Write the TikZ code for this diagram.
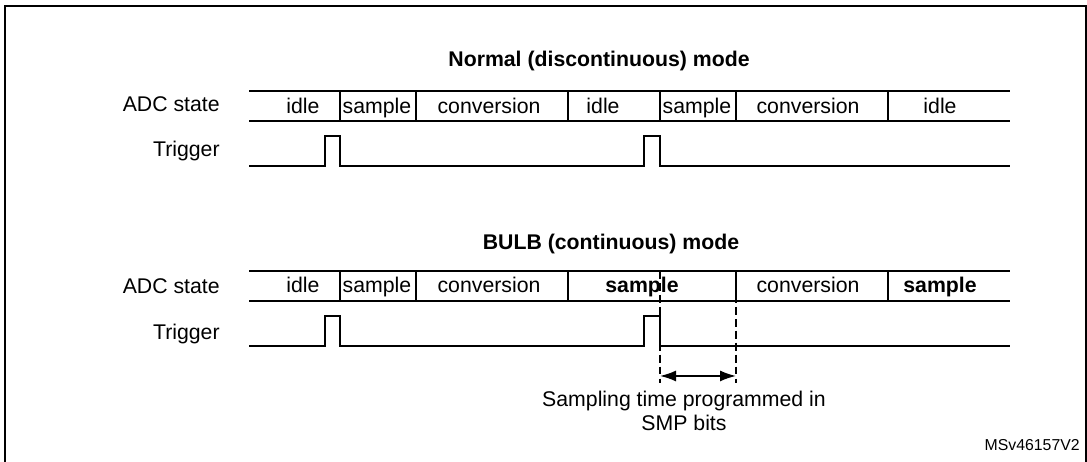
\documentclass[tikz,border=0pt]{standalone}
\usepackage{fontspec}
\setmainfont{Liberation Sans}
\usetikzlibrary{arrows.meta}

\tikzset{
  lbl/.style={font=\fontsize{12.1}{14.5}\selectfont, inner sep=0pt},
  ttl/.style={lbl, font=\fontsize{12.1}{14.5}\selectfont\bfseries},
  sig/.style={line width=0.7pt},
  guide/.style={line width=0.7pt, dash pattern=on 4.5pt off 2.3pt},
}

\begin{document}
\begin{tikzpicture}[x=0.02cm,y=-0.02cm]
		\useasboundingbox (0,0) rectangle (1087,461);
		\clip (0,0) rectangle (1087,461);
		% Frame
		\draw[line width=1.4pt] (5,6) rectangle (1086,490);

		% Normal mode
		\node[ttl,anchor=base] (titleN) at (599,66) {Normal (discontinuous) mode};
		\node[lbl,anchor=base east] (adcN) at (220,111) {ADC state};
		\node[lbl,anchor=base east] (trigN) at (220,156) {Trigger};
		\draw[sig] (249,91) -- (1010,91) (249,121) -- (1010,121);
		\foreach \x in {340,416,568,660,736,888}
			\draw[sig] (\x,91) -- (\x,121);
		\foreach \x/\t/\n in {303/idle/1,377/sample/2,489/conversion/3,603/idle/4,697/sample/5,808/conversion/6,940/idle/7}
			\node[lbl,anchor=base] (stN\n) at (\x,113) {\t};
		\draw[sig] (249,166) -- (325,166) -- (325,136) -- (340,136) -- (340,166) -- (644,166)
			-- (644,136) -- (660,136) -- (660,166) -- (1010,166);

		% BULB mode
		\begin{scope}[yshift=-3.6cm]
			\node[ttl,anchor=base] (titleB) at (611,70) {BULB (continuous) mode};
			\node[lbl,anchor=base east] (adcB) at (220,114) {ADC state};
			\node[lbl,anchor=base east] (trigB) at (220,160) {Trigger};
			\draw[sig] (249,91) -- (1010,91) (249,121) -- (1010,121);
			\foreach \x in {340,416,568,736,888}
				\draw[sig] (\x,91) -- (\x,121);
			\foreach \x/\t/\n in {303/idle/1,377/sample/2,489/conversion/3,642/{\textbf{sample}}/4,808/conversion/5,940/{\textbf{sample}}/6}
				\node[lbl,anchor=base] (stB\n) at (\x,113) {\t};
			\draw[sig] (249,166) -- (325,166) -- (325,136) -- (340,136) -- (340,166) -- (644,166)
				-- (644,136) -- (660,136) -- (660,166) -- (1010,166);
			% sampling time
			\coordinate (smpA) at (660,91);
			\coordinate (smpB) at (736,91);
			\coordinate (arrL) at (660,196);
			\coordinate (arrR) at (736,196);
			\draw[guide] (smpA) -- ++(0,112);
			\draw[guide] (smpB) -- ++(0,112);
			\draw[line width=0.9pt,{Latex[length=0.32cm,width=0.22cm]}-{Latex[length=0.32cm,width=0.22cm]}] (arrL) -- (arrR);
			\node[lbl,anchor=base] (smpTxt) at (684,226.5) {Sampling time programmed in};
			\node[lbl,anchor=base] (smpBits) at (684,251) {SMP bits};
		\end{scope}

		\node[font=\fontsize{9}{11}\selectfont,anchor=base east,inner sep=0pt] (ref) at (1080,450.5) {MSv46157V2};
	\end{tikzpicture}
\end{document}
